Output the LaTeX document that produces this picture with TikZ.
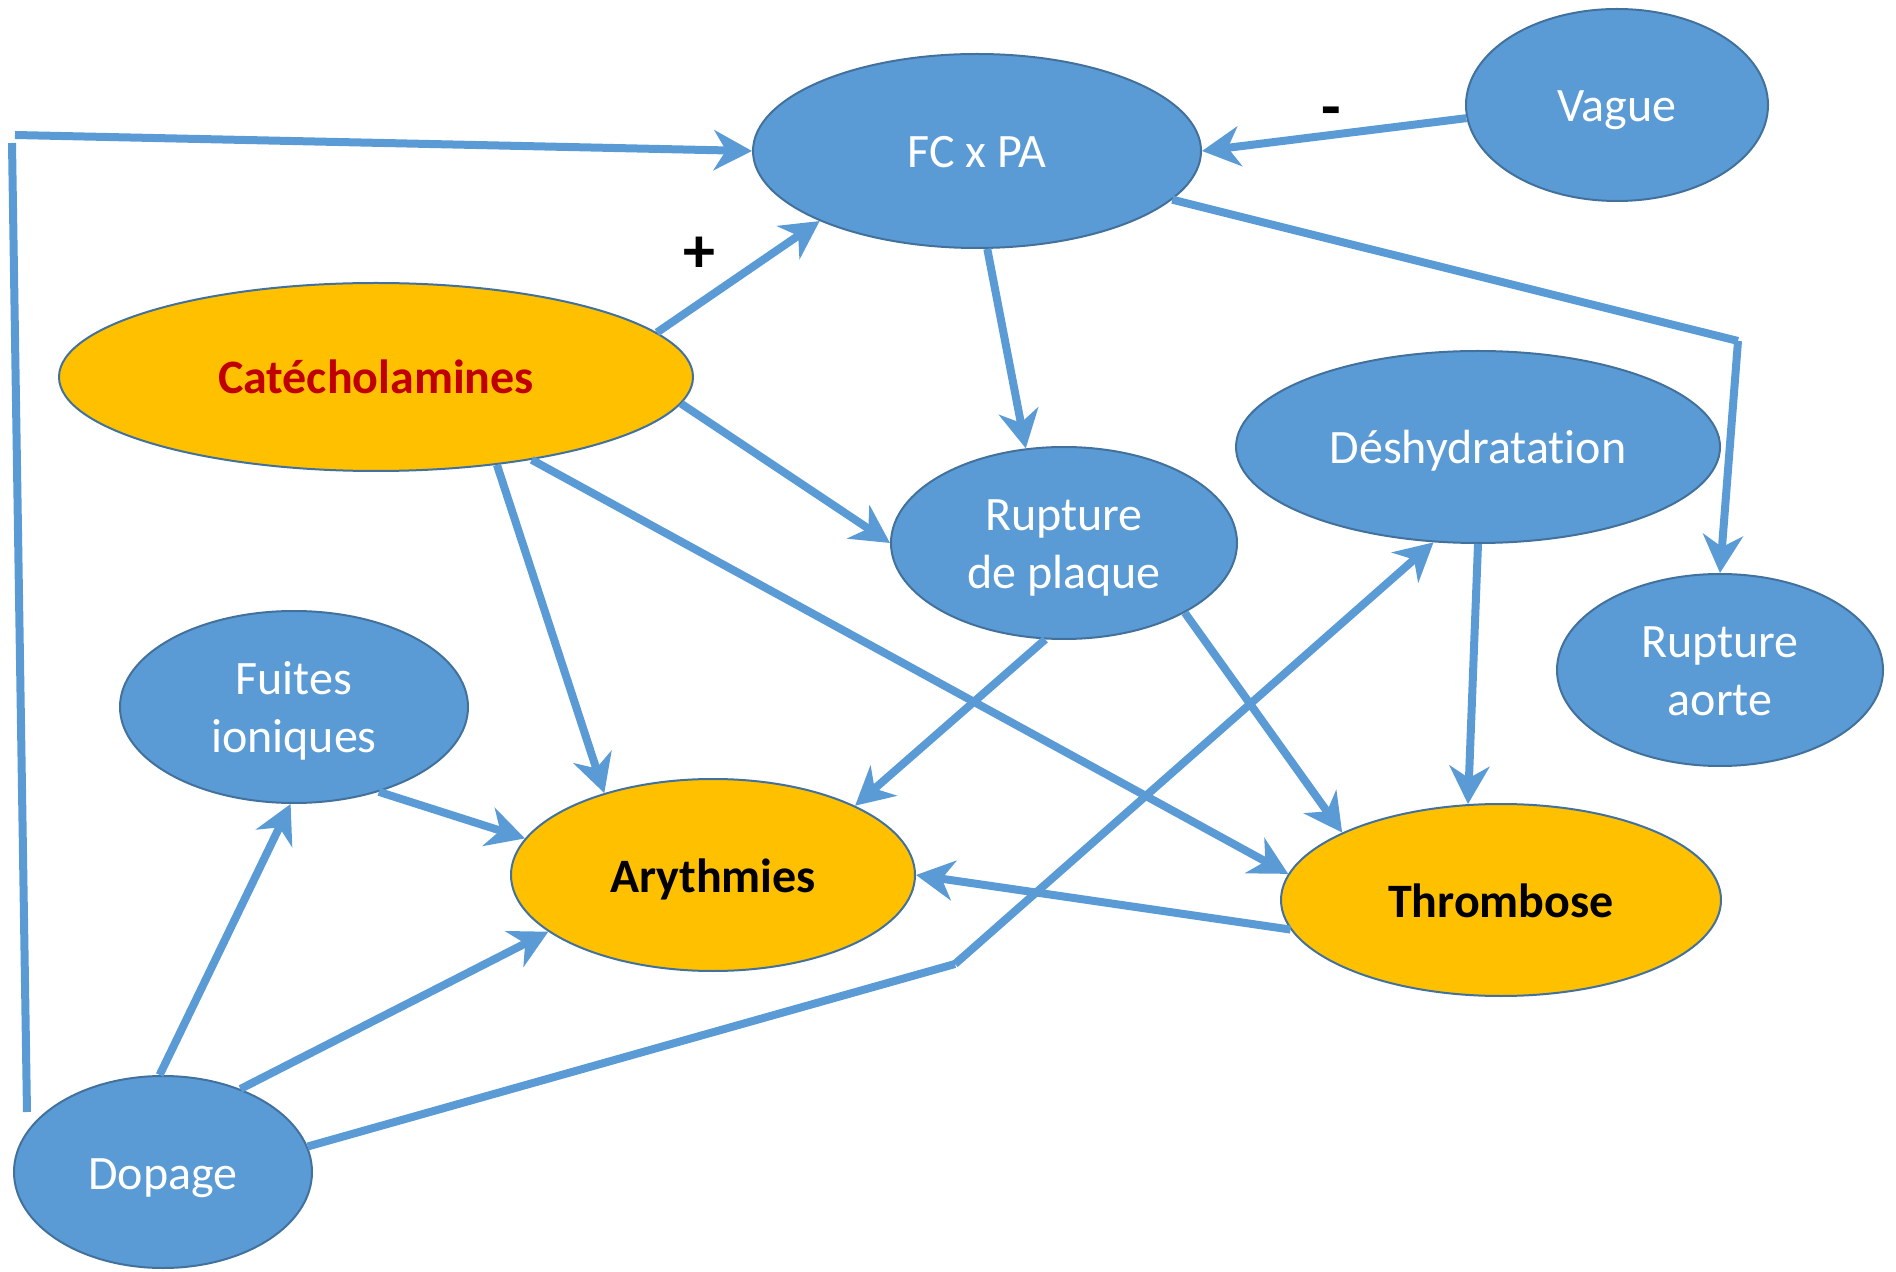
\documentclass[tikz,border=0pt]{standalone}
\usepackage{fontspec}
\setmainfont{Carlito}[Ligatures=NoCommon]
\usetikzlibrary{shapes.geometric,arrows.meta}
\definecolor{nodeblue}{HTML}{5B9BD5}
\definecolor{rimblue}{HTML}{41719C}
\definecolor{amber}{HTML}{FFC000}
\definecolor{darkred}{HTML}{C00000}
% fixed line box so that every label sits at the same height in its ellipse
\newcommand{\lbx}{\rule[-5.5pt]{0pt}{28pt}}

\begin{document}
\begin{tikzpicture}[x=0.5pt,y=-0.5pt,
  bubble/.style={ellipse, draw=rimblue, line width=1pt, inner sep=0pt,
    align=center, font=\fontsize{24}{29}\selectfont},
  bluebub/.style={bubble, fill=nodeblue, text=white},
  keybub/.style={bubble, fill=amber, text=black,
    font=\fontsize{24}{29}\selectfont\bfseries},
  link/.style={draw=nodeblue, line width=4pt, line cap=butt},
  arr/.style={link, -{Stealth[length=19pt,width=20pt,inset=6pt]}},
  sign/.style={font=\fontsize{32}{36}\selectfont\bfseries, inner sep=0pt}
]
\useasboundingbox (0,0) rectangle (1896,1272);

% causes and effects
\node[bluebub, minimum width=224pt, minimum height=97pt] (fc) at (977,151) {\lbx FC x PA};
\node[bluebub, minimum width=151pt, minimum height=96pt] (vag) at (1617,105) {\lbx Vague};
\node[keybub, text=darkred, minimum width=317pt, minimum height=94pt] (cat) at (376,377) {\lbx Catécholamines};
\node[bluebub, minimum width=242pt, minimum height=96pt] (des) at (1478,447) {\lbx Déshydratation};
\node[bluebub, minimum width=173pt, minimum height=96pt] (rp) at (1064,543) {\lbx Rupture\\\lbx de plaque};
\node[bluebub, minimum width=163pt, minimum height=96pt] (aor) at (1720,670) {\lbx Rupture\\\lbx aorte};
\node[bluebub, minimum width=174pt, minimum height=96pt] (fui) at (294,707) {\lbx Fuites\\\lbx ioniques};
\node[keybub, minimum width=202pt, minimum height=96pt] (ary) at (713,875) {\lbx Arythmies};
\node[keybub, minimum width=220pt, minimum height=96pt] (thr) at (1501,900) {\lbx Thrombose};
\node[bluebub, minimum width=149pt, minimum height=96pt] (dop) at (163,1172) {\lbx Dopage};

% signs of the effects on FC x PA
\node[sign] (plus) at (699,255) {+};
\node[sign] (minus) at (1331,118) {-};

% bend points of the routed links
\coordinate (k1) at (1738,341);
\coordinate (k2) at (955,964);
\coordinate (d0) at (27,1112);
\coordinate (k3) at (12,143);
\coordinate (k4) at (15,135);

% links
\draw[arr] (cat.9) -- (fc.204);
\draw[arr] (vag.185) -- (fc.east);
\draw[link] (fc.346) -- (k1);
\draw[arr] (k1) -- (aor.north);
\draw[arr] (fc.-84) -- (rp.112);
\draw[arr] (cat.-5) -- (rp.180);
\draw[arr] (cat.-36) -- (ary.143);
\draw[arr] (cat.-28) -- (thr.173);
\draw[arr] (rp.259) -- (ary.26);
\draw[arr] (rp.-30) -- (thr.157);
\draw[arr] (des.south) -- (thr.109);
\draw[arr] (thr.188) -- (ary.east);
\draw[arr] (fui.-45) -- (ary.169);
\draw[arr] (dop.92) -- (fui.-92);
\draw[arr] (dop.47) -- (ary.199);
\draw[link] (dop.10) -- (k2);
\draw[arr] (k2) -- (des.245);
\draw[link] (d0) -- (k3);
\draw[arr] (k4) -- (fc.west);
\end{tikzpicture}
\end{document}
